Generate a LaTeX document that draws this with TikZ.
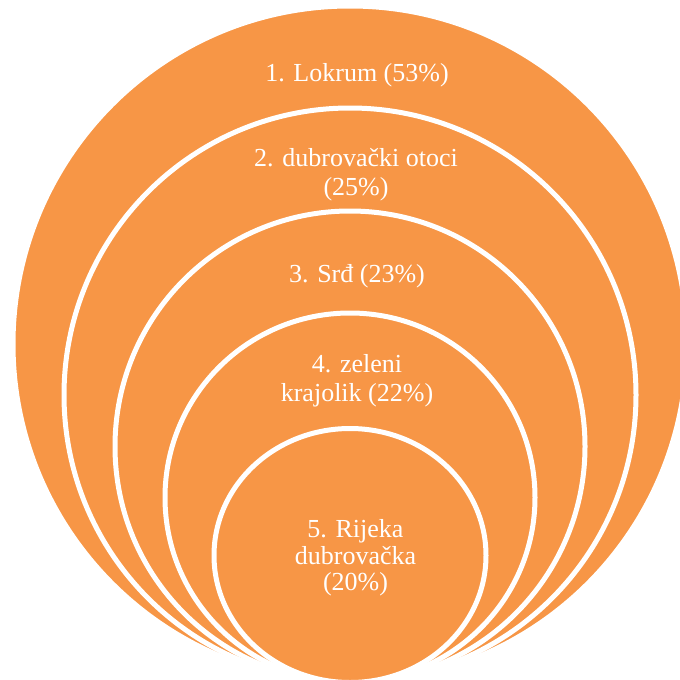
\documentclass[tikz,border=0pt]{standalone}
\usepackage{fontspec}
\setmainfont{Liberation Serif}
\definecolor{ringorange}{HTML}{F79646}
\tikzset{
  ring/.style={fill=ringorange, draw=white, line width=5pt},
  lbl/.style={text=white, align=center, inner sep=0pt, anchor=base,
    font=\fontsize{26}{29}\selectfont}
}
\begin{document}
\begin{tikzpicture}[x=1pt, y=-1pt]
  \useasboundingbox (0,0) rectangle (680,680);
  % nested circles, all touching at the bottom
  \draw[ring] (350,344) circle [x radius=337, y radius=338];
  \draw[ring] (350,395) circle [x radius=286, y radius=287];
  \draw[ring] (350,446.5) circle [x radius=235, y radius=235.5];
  \draw[ring] (350,497.5) circle [x radius=185, y radius=184.5];
  \draw[ring] (350,555.5) circle [x radius=136, y radius=127];
  % labels (base = baseline of the last line)
  \node[lbl] (lokrum) at (357,81) {1. Lokrum (53\%)};
  \node[lbl, font=\fontsize{26}{29.5}\selectfont] (otoci) at (356,195.5) {2. dubrovački otoci\\(25\%)};
  \node[lbl] (srd) at (357,282) {3. Srđ (23\%)};
  \node[lbl, font=\fontsize{26}{28.5}\selectfont] (zeleni) at (357,401) {4. zeleni\\krajolik (22\%)};
  \node[lbl, font=\fontsize{26}{26.5}\selectfont] (rijeka) at (355.5,590.5) {5. Rijeka\\dubrovačka\\(20\%)};
\end{tikzpicture}
\end{document}
